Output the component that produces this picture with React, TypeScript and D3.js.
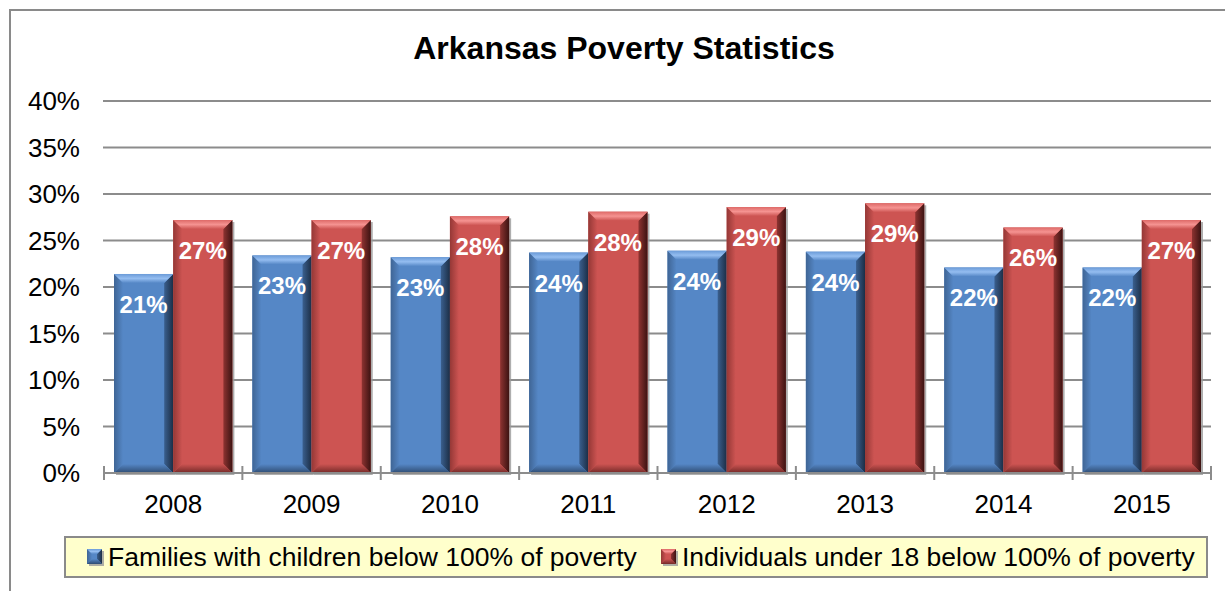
import React from "react";
import * as d3 from "d3";

const years = ["2008", "2009", "2010", "2011", "2012", "2013", "2014", "2015"];
const families = [0.214, 0.234, 0.232, 0.237, 0.239, 0.238, 0.221, 0.221];
const individuals = [0.272, 0.272, 0.276, 0.281, 0.286, 0.29, 0.264, 0.272];
const seriesNames = [
  "Families with children below 100% of poverty",
  "Individuals under 18 below 100% of poverty",
];
const yTicks = [0, 0.05, 0.1, 0.15, 0.2, 0.25, 0.3, 0.35, 0.4];
const title = "Arkansas Poverty Statistics";

const W = 1225;
const H = 591;

const palettes = [
  { id: "b", main: "#5587c6", light: "#94bdf0", mid: "#6b9bd8", dark1: "#3a5f8e", dark2: "#1c2e46", left: "#3f6595", bottom: "#2f4c72" },
  { id: "r", main: "#cd5452", light: "#f59391", mid: "#de6a68", dark1: "#8e3331", dark2: "#3c1312", left: "#953836", bottom: "#742a28" },
];

function BevelRect({ x, y, w, h, p, b }: any) {
  const bb = Math.min(b, w / 2, h / 2);
  const pts = (a: number[][]) => a.map((q) => q.join(",")).join(" ");
  return (
    <g>
      <rect x={x + 2} y={y + 2} width={w} height={h} fill="#9a9a9a" opacity={0.8} />
      <rect x={x} y={y} width={w} height={h} fill={p.main} />
      <polygon points={pts([[x, y], [x + bb, y + bb], [x + bb, y + h - bb], [x, y + h]])} fill={`url(#left-${p.id})`} />
      <polygon points={pts([[x + w, y], [x + w, y + h], [x + w - bb, y + h - bb], [x + w - bb, y + bb]])} fill={`url(#right-${p.id})`} />
      <polygon points={pts([[x, y + h], [x + w, y + h], [x + w - bb, y + h - bb], [x + bb, y + h - bb]])} fill={`url(#bottom-${p.id})`} />
      <polygon points={pts([[x, y], [x + w, y], [x + w - bb, y + bb], [x + bb, y + bb]])} fill={`url(#top-${p.id})`} />
    </g>
  );
}

export default function App() {
  const x0 = d3.scaleBand<string>().domain(years).range([104, 1211]).padding(0);
  const bw = x0.bandwidth();
  const x1 = d3.scaleBand<number>().domain([0, 1]).range([10, bw - 10]).padding(0);
  const y = d3.scaleLinear().domain([0, 0.4]).range([473, 101]);
  const fmt = d3.format(".0%");
  const data = [families, individuals];

  return (
    <svg width={W} height={H} style={{ position: "absolute", left: 0, top: 0, background: "#fff" }} fontFamily="Arial, 'Liberation Sans', sans-serif">
      <defs>
        {palettes.map((p) => (
          <g key={p.id}>
            <linearGradient id={`top-${p.id}`} x1="0" y1="0" x2="0" y2="1">
              <stop offset="0" stopColor={p.mid} />
              <stop offset="0.5" stopColor={p.light} />
              <stop offset="1" stopColor={p.main} />
            </linearGradient>
            <linearGradient id={`right-${p.id}`} x1="0" y1="0" x2="1" y2="0">
              <stop offset="0" stopColor={p.dark1} />
              <stop offset="1" stopColor={p.dark2} />
            </linearGradient>
            <linearGradient id={`left-${p.id}`} x1="0" y1="0" x2="1" y2="0">
              <stop offset="0" stopColor={p.left} />
              <stop offset="1" stopColor={p.main} />
            </linearGradient>
            <linearGradient id={`bottom-${p.id}`} x1="0" y1="0" x2="0" y2="1">
              <stop offset="0" stopColor={p.main} />
              <stop offset="1" stopColor={p.bottom} />
            </linearGradient>
          </g>
        ))}
      </defs>

      {/* outer frame */}
      <path d={`M10,${H + 5} L10,10 L${W + 5},10`} fill="none" stroke="#8a8a8a" strokeWidth={2} />

      <text x={624} y={59} textAnchor="middle" fontSize={32} fontWeight="bold" fill="#000">
        {title}
      </text>

      {/* gridlines and y labels */}
      {yTicks.map((t) => (
        <g key={t}>
          <line x1={103} x2={1211} y1={y(t)} y2={y(t)} stroke="#8c8c8c" strokeWidth={2} />
          <text x={80} y={y(t)} dy="0.36em" textAnchor="end" fontSize={26} fill="#000">
            {fmt(t)}
          </text>
        </g>
      ))}

      {/* bars */}
      {years.map((yr, i) => (
        <g key={yr}>
          {data.map((s, j) => {
            const bx = (x0(yr) as number) + (x1(j) as number);
            const by = y(s[i]);
            const h = y(0) - by;
            return (
              <g key={j}>
                <BevelRect x={bx} y={by} w={x1.bandwidth()} h={h} p={palettes[j]} b={9} />
                <text x={bx + x1.bandwidth() / 2} y={by + 39} textAnchor="middle" fontSize={24} fontWeight="bold" fill="#fff">
                  {fmt(s[i])}
                </text>
              </g>
            );
          })}
        </g>
      ))}

      {/* x axis */}
      <line x1={104} x2={1211} y1={473} y2={473} stroke="#8c8c8c" strokeWidth={2} />
      {[...years.map((yr) => x0(yr) as number), 1211].map((tx, k) => (
        <line key={k} x1={tx} x2={tx} y1={466} y2={480} stroke="#8c8c8c" strokeWidth={2} />
      ))}
      {years.map((yr) => (
        <text key={yr} x={(x0(yr) as number) + bw / 2} y={513} textAnchor="middle" fontSize={26} fill="#000">
          {yr}
        </text>
      ))}

      {/* legend */}
      <rect x={65} y={537} width={1142} height={40} fill="#ffffcc" stroke="#8a8a8a" strokeWidth={2} />
      {seriesNames.map((n, j) => {
        const lx = j === 0 ? 87 : 661;
        return (
          <g key={n}>
            <BevelRect x={lx} y={549} w={15} h={15} p={palettes[j]} b={5} />
            <text x={lx + 21} y={566} fontSize={26.5} fill="#000">
              {n}
            </text>
          </g>
        );
      })}
    </svg>
  );
}
